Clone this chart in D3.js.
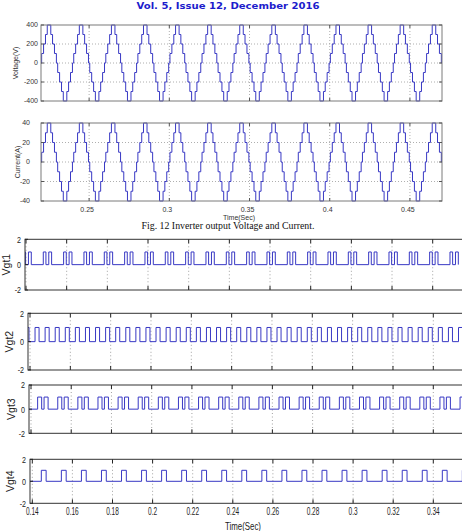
<!DOCTYPE html>
<html><head><meta charset="utf-8">
<script src="https://cdn.jsdelivr.net/npm/d3@7"></script>
<style>body{margin:0;background:#fff}svg{display:block}</style>
</head><body><svg id="c" width="462" height="531"></svg>
<script>
// ---------- DATA ----------
// Inverter output: one staircase cycle (20 ms) described by step instants (ms) and levels
const cycleStarts = [0.20,0.22,0.24,0.26,0.28,0.30,0.32,0.34,0.36,0.38,0.40,0.42,0.44,0.46,0.48];
const stepTimesMs = [0.4,1.6,2.8,3.9,6.1,7.2,8.4,9.6,10.4,11.6,12.8,13.9,16.1,17.2,18.4,19.6];
const voltageLevels = [100,200,300,400,300,200,100,0,-100,-200,-300,-400,-300,-200,-100,0];
const currentLevels = [10,20,30,40,30,20,10,0,-10,-20,-30,-40,-30,-20,-10,0];
const topXTicks = [0.25,0.3,0.35,0.4,0.45];
const voltTicks = [-400,-200,0,200,400];
const currTicks = [-40,-20,0,20,40];

// Gate pulses: 10 ms switching cycles, pulse on/off instants (ms) within each cycle
const gateCycles = [0.13,0.14,0.15,0.16,0.17,0.18,0.19,0.20,0.21,0.22,0.23,0.24,0.25,0.26,0.27,0.28,0.29,0.30,0.31,0.32,0.33,0.34,0.35];
const vgt1Pulses = [[-1.5,-0.2],[1.2,2.6]];
const vgt2Pulses = [[2.5,4.5],[7.5,9.5]];
const vgt3Pulses = [[3.3,5.3],[6.5,8.5]];
const vgt4Pulses = [[4.5,6.9]];
const gateTicks = [0.14,0.16,0.18,0.2,0.22,0.24,0.26,0.28,0.3,0.32,0.34];
const gateYTicks = [-2,0,2];

// ---------- DRAW ----------
const svg = d3.select("#c");
svg.append("rect").attr("width",462).attr("height",531).attr("fill","#fff");
const LINE = "#3838c4";

svg.append("text").attr("x",228).attr("y",9)
  .attr("text-anchor","middle").attr("font-family","DejaVu Sans").attr("font-weight","bold")
  .attr("font-size",9.5).attr("fill","#1c1ccc").attr("textLength",183).attr("lengthAdjust","spacingAndGlyphs")
  .text("Vol. 5, Issue 12, December 2016");

function stairData(levels){
  const pts=[[0.19,0]];
  cycleStarts.forEach(c=>stepTimesMs.forEach((m,i)=>pts.push([c+m/1000,levels[i]])));
  return pts;
}
function pulseData(pulses){
  const pts=[[0.12,0]];
  gateCycles.forEach(c=>pulses.forEach(p=>{pts.push([c+p[0]/1000,1]);pts.push([c+p[1]/1000,0]);}));
  return pts;
}

let clipId=0;
function topPanel(o){
  const x=d3.scaleLinear().domain([0.22,0.47]).range([o.l,o.r]);
  const y=d3.scaleLinear().domain(o.yd).range([o.b,o.t]);
  const g=svg.append("g");
  g.selectAll(".gx").data(topXTicks).enter().append("line")
    .attr("x1",d=>x(d)).attr("x2",d=>x(d)).attr("y1",o.t).attr("y2",o.b)
    .attr("stroke","#9a9a9a").attr("stroke-width",0.8).attr("stroke-dasharray","1,2");
  g.selectAll(".gy").data(o.ticks.slice(1,-1)).enter().append("line")
    .attr("x1",o.l).attr("x2",o.r).attr("y1",d=>y(d)).attr("y2",d=>y(d))
    .attr("stroke","#9a9a9a").attr("stroke-width",0.8).attr("stroke-dasharray","1,2");
  const id="cl"+(clipId++);
  svg.append("clipPath").attr("id",id).append("rect").attr("x",o.l).attr("y",o.t-1).attr("width",o.r-o.l).attr("height",o.b-o.t+2);
  g.append("path").attr("clip-path",`url(#${id})`).datum(stairData(o.levels))
    .attr("d",d3.line().x(d=>x(d[0])).y(d=>y(d[1])).curve(d3.curveStepAfter))
    .attr("fill","none").attr("stroke",LINE).attr("stroke-width",1);
  g.append("rect").attr("x",o.l).attr("y",o.t).attr("width",o.r-o.l).attr("height",o.b-o.t)
    .attr("fill","none").attr("stroke","#7a7a7a").attr("stroke-width",1);
  topXTicks.forEach(d=>{
    g.append("line").attr("x1",x(d)).attr("x2",x(d)).attr("y1",o.b).attr("y2",o.b-3).attr("stroke","#555");
    g.append("line").attr("x1",x(d)).attr("x2",x(d)).attr("y1",o.t).attr("y2",o.t+3).attr("stroke","#555");
  });
  o.ticks.forEach(d=>{
    g.append("line").attr("x1",o.l).attr("x2",o.l+3).attr("y1",y(d)).attr("y2",y(d)).attr("stroke","#555");
    g.append("line").attr("x1",o.r).attr("x2",o.r-3).attr("y1",y(d)).attr("y2",y(d)).attr("stroke","#555");
  });
  g.selectAll(".yl").data(o.ticks).enter().append("text")
    .attr("x",o.lx).attr("y",d=>y(d)+2.4).attr("text-anchor","end")
    .attr("font-family","Liberation Sans").attr("font-size",7).attr("fill","#333").text(d=>d);
  g.append("text").attr("transform",`translate(${o.yl},${(o.t+o.b)/2}) rotate(-90)`)
    .attr("text-anchor","middle").attr("font-family","Liberation Sans").attr("font-size",7).attr("fill","#333").text(o.label);
  if(o.xlabels){
    g.selectAll(".xl").data(topXTicks).enter().append("text")
      .attr("x",d=>x(d)-2).attr("y",o.b+11).attr("text-anchor","middle")
      .attr("font-family","Liberation Sans").attr("font-size",7).attr("fill","#333").text(d=>d);
    g.append("text").attr("x",239).attr("y",o.b+18.5).attr("text-anchor","middle")
      .attr("font-family","Liberation Sans").attr("font-size",7).attr("fill","#333").text("Time(Sec)");
  }
}
topPanel({l:41,r:442,t:25,b:101,yd:[-400,400],ticks:voltTicks,levels:voltageLevels,lx:38,yl:18,label:"Voltage(V)"});
topPanel({l:41,r:442,t:123,b:201,yd:[-40,40],ticks:currTicks,levels:currentLevels,lx:30,yl:20,label:"Current(A)",xlabels:true});

svg.append("text").attr("x",228).attr("y",228.5).attr("text-anchor","middle")
  .attr("font-family","Liberation Serif").attr("font-size",10).attr("fill","#111")
  .attr("textLength",173).attr("lengthAdjust","spacingAndGlyphs")
  .text("Fig. 12 Inverter output Voltage and Current.");

function gatePanel(o){
  const x=d3.scaleLinear().domain([0.14,0.34]).range([o.x0,o.x1]);
  const y=d3.scaleLinear().domain([-2,2]).range([o.b,o.t]);
  const R=480;
  const g=svg.append("g");
  gateTicks.forEach(d=>{
    g.append("line").attr("x1",x(d)).attr("x2",x(d)).attr("y1",o.t).attr("y2",o.b)
      .attr("stroke","#8a8a8a").attr("stroke-width",0.8).attr("stroke-dasharray","1,2.5");
    g.append("line").attr("x1",x(d)).attr("x2",x(d)).attr("y1",o.b).attr("y2",o.b-4).attr("stroke","#222");
    g.append("line").attr("x1",x(d)).attr("x2",x(d)).attr("y1",o.t).attr("y2",o.t+4).attr("stroke","#222");
  });
  const id="cl"+(clipId++);
  svg.append("clipPath").attr("id",id).append("rect").attr("x",o.l).attr("y",o.t).attr("width",R-o.l).attr("height",o.b-o.t);
  g.append("path").attr("clip-path",`url(#${id})`).datum(pulseData(o.pulses))
    .attr("d",d3.line().x(d=>x(d[0])).y(d=>y(d[1])).curve(d3.curveStepAfter))
    .attr("fill","none").attr("stroke",LINE).attr("stroke-width",1);
  g.append("rect").attr("x",o.l).attr("y",o.t).attr("width",R-o.l).attr("height",o.b-o.t)
    .attr("fill","none").attr("stroke","#333").attr("stroke-width",1);
  gateYTicks.forEach(d=>{
    g.append("line").attr("x1",o.l).attr("x2",o.l+3).attr("y1",y(d)).attr("y2",y(d)).attr("stroke","#222");
    g.append("text").attr("x",o.l-4).attr("y",y(d)+3.5).attr("text-anchor","end")
      .attr("font-family","Liberation Sans").attr("font-size",9.5).attr("fill","#222")
      .attr("transform",`translate(${o.l-4},0) scale(0.75,1) translate(${-(o.l-4)},0)`).text(d);
  });
  g.append("text").attr("transform",`translate(${o.yl},${(o.t+o.b)/2}) rotate(-90)`)
    .attr("text-anchor","middle").attr("font-family","Liberation Sans").attr("font-size",10.5).attr("fill","#222").text(o.label);
  if(o.xlabels){
    gateTicks.forEach(d=>{
      g.append("text").attr("transform",`translate(${x(d)},${o.b+12}) scale(0.62,1)`)
        .attr("text-anchor","middle").attr("font-family","Liberation Sans").attr("font-size",10.5).attr("fill","#222").text(d);
    });
    g.append("text").attr("transform",`translate(243,530) scale(0.75,1)`)
      .attr("text-anchor","middle").attr("font-family","Liberation Sans").attr("font-size",10.5).attr("fill","#222").text("Time(Sec)");
  }
}
gatePanel({l:25,x0:26,x1:432.7,t:239.3,b:290,pulses:vgt1Pulses,label:"Vgt1",yl:10});
gatePanel({l:28,x0:30,x1:433.3,t:313.3,b:370,pulses:vgt2Pulses,label:"Vgt2",yl:13});
gatePanel({l:29,x0:31,x1:433.3,t:385,b:433.3,pulses:vgt3Pulses,label:"Vgt3",yl:14.5});
gatePanel({l:30,x0:32.3,x1:433.3,t:459.3,b:503.3,pulses:vgt4Pulses,label:"Vgt4",yl:14,xlabels:true});
</script></body></html>
